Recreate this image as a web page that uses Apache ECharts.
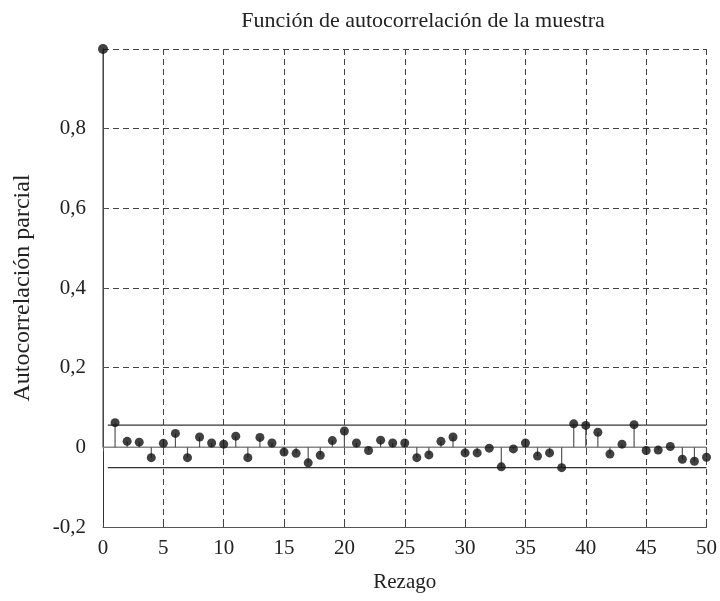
<!DOCTYPE html>
<html>
<head>
<meta charset="utf-8">
<script src="https://cdn.jsdelivr.net/npm/echarts@6/dist/echarts.min.js"></script>
<style>
  html, body { margin: 0; padding: 0; background: #fff; }
  #main { width: 720px; height: 601px; }
</style>
</head>
<body>
<div id="main"></div>
<script>
// rezagos y autocorrelaciones
var lags = [];
for (var i = 0; i <= 50; i++) lags.push(i);

var acf = [1.0, 0.062, 0.015, 0.013, -0.026, 0.010, 0.035, -0.026, 0.026, 0.011,
    0.008, 0.028, -0.026, 0.025, 0.011, -0.012, -0.015, -0.039, -0.020, 0.017,
    0.041, 0.011, -0.008, 0.018, 0.011, 0.011, -0.026, -0.019, 0.015, 0.026,
    -0.014, -0.014, -0.002, -0.049, -0.004, 0.011, -0.022, -0.014, -0.051, 0.059,
    0.055, 0.038, -0.017, 0.008, 0.057, -0.008, -0.007, 0.002, -0.030, -0.035,
    -0.025];

// limites de confianza
var upperBound = 0.056;
var lowerBound = -0.051;
var boundStart = 0.4;
var boundEnd = 50;

var points = [];
for (var k = 0; k < lags.length; k++) {
    points.push([lags[k], acf[k]]);
}

var font = 'Liberation Serif';
var chart = echarts.init(document.getElementById('main'));

var option = {
    animation: false,
    backgroundColor: '#fff',
    title: {
        text: 'Función de autocorrelación de la muestra',
        left: 418,
        top: 5,
        textAlign: 'center',
        textStyle: { fontFamily: font, fontSize: 22, fontWeight: 'normal', color: '#222' }
    },
    grid: { left: 103, right: 8, top: 49, bottom: 74, show: false },
    xAxis: [{
        type: 'value',
        min: 0, max: 50, interval: 5,
        name: 'Rezago',
        nameLocation: 'middle',
        nameGap: 45,
        nameTextStyle: { fontFamily: font, fontSize: 21, color: '#222' },
        axisLine: { show: true, onZero: false, lineStyle: { color: '#555', width: 1 } },
        axisTick: { show: true, inside: true, length: 4, lineStyle: { color: '#444' } },
        axisLabel: { margin: 11, fontFamily: font, fontSize: 21, color: '#222' },
        splitLine: { show: true, lineStyle: { type: [6, 4], color: '#444', width: 1 } }
    }, {
        type: 'value',
        position: 'top',
        min: 0, max: 50, interval: 5,
        axisLine: { show: true, lineStyle: { color: '#777', width: 1 } },
        axisTick: { show: true, inside: true, length: 4, lineStyle: { color: '#555' } },
        axisLabel: { show: false },
        splitLine: { show: false }
    }],
    yAxis: [{
        type: 'value',
        min: -0.2, max: 1, interval: 0.2,
        name: 'Autocorrelación parcial',
        nameLocation: 'middle',
        nameGap: 68,
        nameTextStyle: { fontFamily: font, fontSize: 24, color: '#222' },
        axisLine: { show: true, onZero: false, lineStyle: { color: '#777', width: 1 } },
        axisTick: { show: true, inside: true, length: 4, lineStyle: { color: '#555' } },
        axisLabel: {
            margin: 17, fontFamily: font, fontSize: 21, color: '#222',
            formatter: function (v) {
                if (v > 0.99) return '';
                return String(+v.toFixed(1)).replace('.', ',');
            }
        },
        splitLine: { show: true, lineStyle: { type: [6, 4], color: '#444', width: 1 } }
    }, {
        type: 'value',
        position: 'right',
        min: -0.2, max: 1, interval: 0.2,
        axisLine: { show: true, lineStyle: { color: '#333', width: 1 } },
        axisTick: { show: false },
        axisLabel: { show: false },
        splitLine: { show: false }
    }],
    series: [{
        // linea en cero
        type: 'line',
        data: [[0, 0], [50, 0]],
        symbol: 'none',
        silent: true,
        lineStyle: { color: '#888', width: 1.5 },
        z: 1
    }, {
        type: 'line',
        data: [[boundStart, upperBound], [boundEnd, upperBound]],
        symbol: 'none',
        lineStyle: { color: '#333', width: 1.2 },
        z: 2
    }, {
        type: 'line',
        data: [[boundStart, lowerBound], [boundEnd, lowerBound]],
        symbol: 'none',
        lineStyle: { color: '#333', width: 1.2 },
        z: 2
    }, {
        // tallos
        type: 'custom',
        data: points,
        renderItem: function (params, api) {
            var a = api.coord([api.value(0), 0]);
            var b = api.coord([api.value(0), api.value(1)]);
            return {
                type: 'line',
                shape: { x1: a[0], y1: a[1], x2: b[0], y2: b[1] },
                style: { stroke: '#555', lineWidth: 1.2 }
            };
        },
        z: 3
    }, {
        type: 'scatter',
        data: points,
        symbol: 'circle',
        symbolSize: function (v) { return v[0] === 0 ? 10 : 9; },
        itemStyle: { color: '#111' },
        z: 4
    }]
};

chart.setOption(option);
</script>
</body>
</html>
